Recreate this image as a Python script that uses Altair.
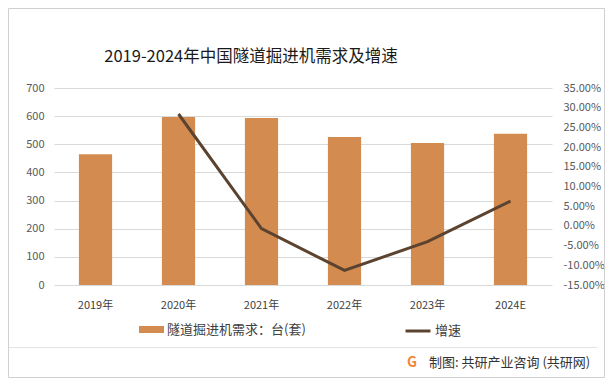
import altair as alt
import pandas as pd

years = ["2019年", "2020年", "2021年", "2022年", "2023年", "2024E"]
demand = [465, 597, 593, 526, 505, 537]
growth = [None, 0.284, -0.007, -0.113, -0.040, 0.063]
bar_name = "隧道掘进机需求：台(套)"
line_name = "增速"
left_ticks = [0, 100, 200, 300, 400, 500, 600, 700]
right_ticks = [-0.15, -0.10, -0.05, 0.0, 0.05, 0.10, 0.15, 0.20, 0.25, 0.30, 0.35]
title_text = "2019-2024年中国隧道掘进机需求及增速"
footer_text = "制图: 共研产业咨询 (共研网)"

FONT = "Noto Sans CJK SC"
W, H = 498, 197

df = pd.DataFrame({"year": years, "demand": demand, "growth": growth,
                   "bar_s": bar_name, "line_s": line_name})

x_enc = alt.X("year:N", sort=years,
              scale=alt.Scale(paddingInner=0.6, paddingOuter=0.3),
              axis=alt.Axis(title=None, labelAngle=0, domain=False, ticks=False,
                            labelPadding=14, labelFontSize=11, labelColor="#404040",
                            labelFont=FONT))

bars = alt.Chart(df).mark_bar().encode(
    x=x_enc,
    y=alt.Y("demand:Q", scale=alt.Scale(domain=[0, 700]),
            axis=alt.Axis(values=left_ticks, title=None, grid=True, gridColor="#d9d9d9",
                          domain=False, ticks=False, labelPadding=10, format="d",
                          labelFontSize=11, labelColor="#595959", labelFont=FONT)),
    color=alt.Color("bar_s:N", scale=alt.Scale(range=["#D38B4F"]),
                    legend=alt.Legend(title=None, orient="none", legendX=85, legendY=229,
                                      symbolType="M-1,-0.28H1V0.28H-1Z", symbolSize=625,
                                      symbolStrokeWidth=0, labelOffset=3,
                                      labelFontSize=13, labelColor="#404040", labelFont=FONT)),
)

line = alt.Chart(df).transform_filter("isValid(datum.growth)").mark_line(strokeWidth=3).encode(
    x=x_enc,
    y=alt.Y("growth:Q", scale=alt.Scale(domain=[-0.15, 0.35]),
            axis=alt.Axis(orient="right", values=right_ticks, title=None, grid=False,
                          domain=False, ticks=False, labelPadding=11,
                          labelExpr="replace(format(datum.value, '.2%'), '\u2212', '-')",
                          labelFontSize=11, labelColor="#595959", labelFont=FONT)),
    stroke=alt.Stroke("line_s:N", scale=alt.Scale(range=["#5C4330"]),
                      legend=alt.Legend(title=None, orient="none", legendX=350, legendY=229,
                                        symbolType="stroke", symbolSize=625,
                                        symbolStrokeWidth=3, labelOffset=3,
                                        labelFontSize=13, labelColor="#404040", labelFont=FONT)),
)

one = pd.DataFrame({"t": [title_text], "f": [footer_text]})

title = alt.Chart(one).mark_text(fontSize=16.5, font=FONT, color="#1a1a1a",
                                 align="center", baseline="middle").encode(
    text="t:N", x=alt.value(197), y=alt.value(-31))

footer = alt.Chart(one).mark_text(fontSize=13, font=FONT, color="#333333",
                                  align="left", baseline="middle").encode(
    text="f:N", x=alt.value(375), y=alt.value(275))

logo = alt.Chart(one).mark_text(fontSize=14, font=FONT, fontWeight="bold", color="#F0883A",
                                align="center", baseline="middle").encode(
    text=alt.value("G"), x=alt.value(358), y=alt.value(275))

sep = alt.Chart(one).mark_rule(color="#e3e3e3", strokeWidth=1).encode(
    x=alt.value(-45.5), x2=alt.value(543.5), y=alt.value(259.5))

frame = alt.Chart(one).mark_rect(fillOpacity=0, stroke="#d0d0d0", strokeWidth=1).encode(
    x=alt.value(-45.5), x2=alt.value(550.5), y=alt.value(-79.5), y2=alt.value(289.5))

chart = alt.layer(bars, line, title, footer, logo, sep, frame).resolve_scale(
    y="independent", color="independent", stroke="independent"
).properties(
    width=W, height=H, autosize="none",
    padding={"left": 46, "top": 80, "right": 53, "bottom": 93},
    background="white",
).configure_view(stroke=None)

chart.save("out.html", embed_options={"renderer": "svg", "actions": False})
